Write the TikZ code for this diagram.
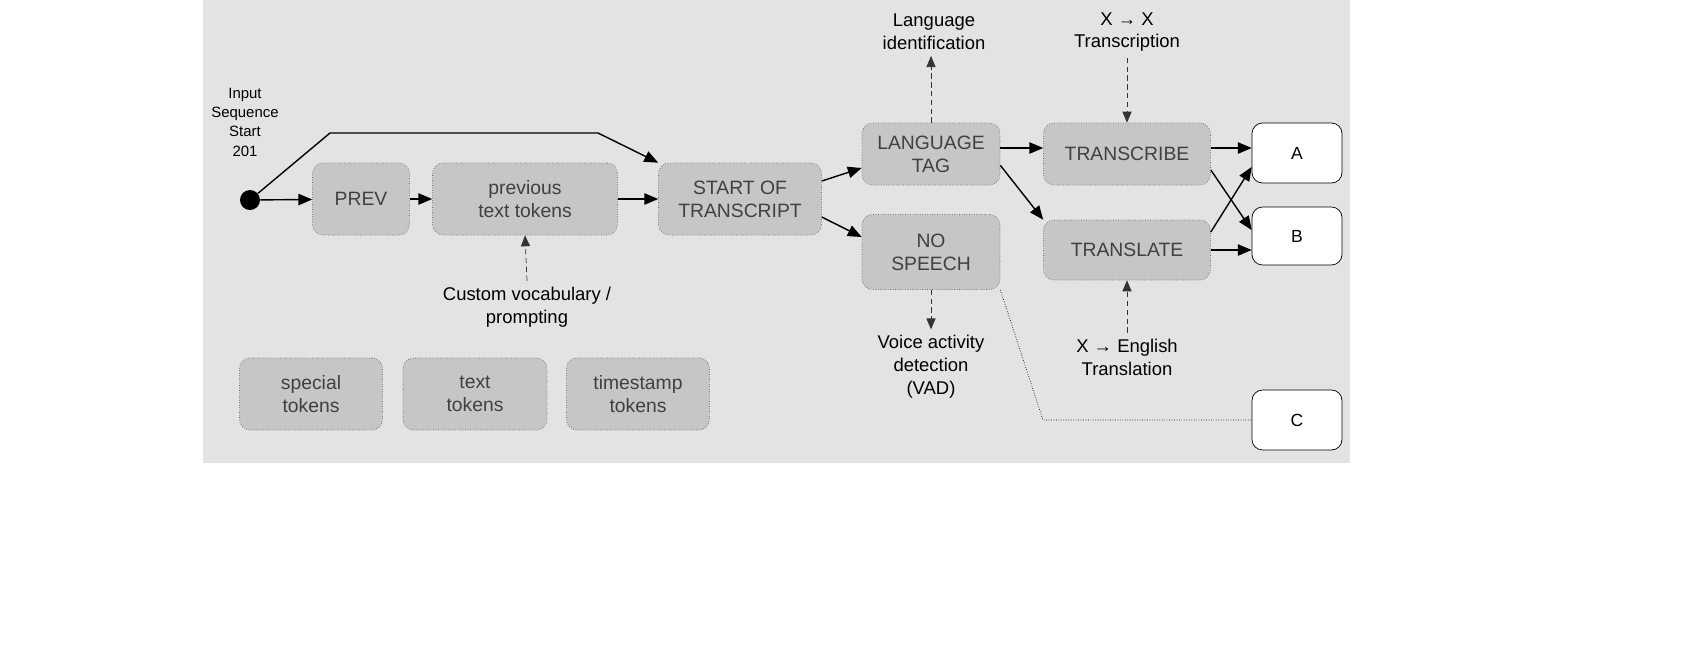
\documentclass[tikz,border=0pt]{standalone}
\usepackage{fontspec}
\setmainfont{Liberation Sans}
\usetikzlibrary{arrows,positioning,shapes,backgrounds,fit,calc}

\begin{document}
\begin{tikzpicture}[x=0.02cm,y=-0.02cm,
    tok/.style={draw=gray!80!black,densely dotted,fill=gray!45,rounded corners=6,
        align=center,font=\fontsize{11}{13}\selectfont,text=black!75,inner sep=0},
    result/.style={draw=black,fill=white,rounded corners=6,minimum width=1.8cm,
        minimum height=1.2cm,font=\fontsize{10}{12}\selectfont},
    lbl/.style={align=center,font=\fontsize{10.5}{13}\selectfont},
    flow/.style={-triangle 45,thick},
    hint/.style={-triangle 45,densely dashed,gray!40!black}]
    \useasboundingbox (0,0) rectangle (1700,650);
    % Background
    \fill[gray!22] (203,0) rectangle (1350,463);

    % Token nodes
    \node[circle,fill=black,inner sep=0,minimum size=0.4cm] (start) at (250,200) {};
    \node[tok,minimum width=1.94cm,minimum height=1.44cm] (prev) at (361,199) {PREV};
    \node[tok,minimum width=3.7cm,minimum height=1.44cm] (ptext) at (525,199) {previous\\text tokens};
    \node[tok,minimum width=3.26cm,minimum height=1.44cm] (sot) at (740,199) {START OF\\TRANSCRIPT};
    \node[tok,minimum width=2.76cm,minimum height=1.24cm] (lang) at (931,154) {LANGUAGE\\TAG};
    \node[tok,minimum width=2.76cm,minimum height=1.5cm] (nosp) at (931,252) {NO\\SPEECH};
    \node[tok,minimum width=3.34cm,minimum height=1.24cm] (transc) at (1127,154) {TRANSCRIBE};
    \node[tok,minimum width=3.34cm,minimum height=1.2cm] (transl) at (1127,250) {TRANSLATE};
    \node[result] (A) at (1297,153) {A};
    \node[result,minimum height=1.16cm] (B) at (1297,236) {B};
    \node[result] (C) at (1297,420) {C};

    % Legend
    \node[tok,minimum width=2.86cm,minimum height=1.44cm] (special) at (311,394) {special\\tokens};
    \node[tok,minimum width=2.88cm,minimum height=1.44cm] (text) at (475,394) {text\\tokens};
    \node[tok,minimum width=2.86cm,minimum height=1.44cm] (stamp) at (638,394) {timestamp\\tokens};

    % Labels
    \node[lbl,font=\fontsize{8.5}{11}\selectfont] (input) at (245,122) {Input\\Sequence\\Start\\201};
    \node[lbl] (langid) at (934,32) {Language\\identification};
    \node[lbl] (xx) at (1127,32) {X → X\\Transcription};
    \node[lbl] (vocab) at (527,307) {Custom vocabulary /\\prompting};
    \node[lbl] (vad) at (931,367) {Voice activity\\detection\\(VAD)};
    \node[lbl] (xen) at (1127,357) {X → English\\Translation};
    \coordinate (up1) at (330,133);
    \coordinate (up2) at (598,133);
    \coordinate (bend) at (1043,420);

    % Connectors
    \draw[flow] (start) -- (prev);
    \draw[flow] (prev) -- (ptext);
    \draw[flow] (ptext) -- (sot);
    \draw[flow] (start) -- (up1) -- (up2) -- (sot.north west);
    \draw[flow] (sot.east) ++(0,-18) -- (lang.west |- 0,168);
    \draw[flow] (sot.east) ++(0,18) -- (nosp.west |- 0,237);
    \draw[flow] (lang.east) ++(0,-6) -- (transc.west |- 0,148);
    \draw[flow] (lang.south east) ++(0,-20) -- (transl.north west);
    \draw[flow] (transc.east |- 0,148) -- (A.west |- 0,148);
    \draw[flow] (transc.east |- 0,170) -- (B.west |- 0,230);
    \draw[flow] (transl.east |- 0,232) -- (A.west |- 0,167);
    \draw[flow] (transl.east |- 0,250) -- (B.west |- 0,250);
    \draw[densely dotted] (nosp.south east) -- (bend) -- (C);
    \draw[hint] (vocab.north) -- (ptext.south);
    \draw[hint] (lang.north) -- (lang.north |- langid.south);
    \draw[hint] (nosp.south) -- (vad.north);
    \draw[hint] (xx.south) -- (transc.north);
    \draw[hint] (xen.north) -- (transl.south);
\end{tikzpicture}
\end{document}
